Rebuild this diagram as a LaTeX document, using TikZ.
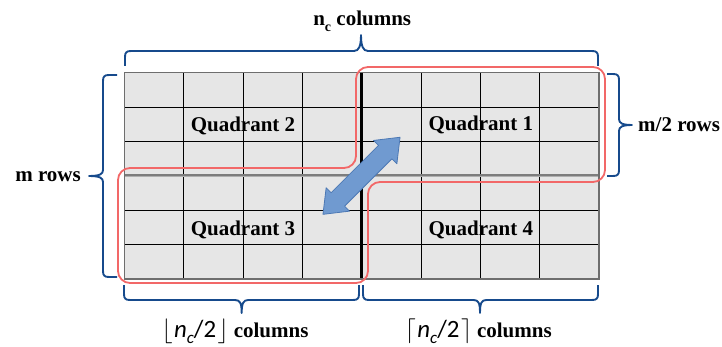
\documentclass[tikz,border=0pt]{standalone}
\usepackage{fontspec}
\setmainfont{Liberation Serif}
\newfontfamily\nsans{Carlito}
\definecolor{cellfill}{RGB}{230,230,230}
\definecolor{bordergray}{RGB}{110,110,110}
\definecolor{splitgray}{RGB}{125,125,125}
\definecolor{splitlight}{RGB}{175,175,175}
\definecolor{hlred}{RGB}{242,104,104}
\definecolor{braceblue}{RGB}{22,74,140}
\definecolor{arrowfill}{RGB}{112,154,208}
\definecolor{arrowline}{RGB}{76,120,180}

\begin{document}
\begin{tikzpicture}[x=1pt,y=-1pt,
  cellline/.style={black,line width=0.9pt},
  border/.style={bordergray,line width=1.3pt},
  hl/.style={hlred,line width=1.8pt,rounded corners=12pt},
  bracepath/.style={braceblue,line width=1.9pt,line join=round},
  bigarrow/.style={fill=arrowfill,draw=arrowline,line width=0.8pt,line join=round},
  lbl/.style={inner sep=0pt,font=\fontsize{21}{25}\selectfont\bfseries},
  quad/.style={lbl}]
\useasboundingbox (0,0) rectangle (722,347);

% the m x n_c matrix
\fill[cellfill] (124.5,72.7) rectangle (599,279);
\foreach \k in {1,...,7}
  \draw[cellline] ({124.5+\k*59.3125},72.7) -- ({124.5+\k*59.3125},279);
\foreach \k in {1,2,4,5}
  \draw[cellline] (124.5,{72.7+\k*34.383}) -- (599,{72.7+\k*34.383});
% split lines between the halves
\draw[line width=3pt,splitgray] (124.5,175.85) -- (599,175.85);
\draw[line width=0.9pt,splitlight] (124.5,176.3) -- (599,176.3);
\draw[line width=3pt,black] (361.75,72.7) -- (361.75,279);
\draw[border] (124.5,72.7) rectangle (599,279);

% outline around quadrants 1 and 3
\draw[hl] (356,67) -- (605,67) -- (605,182) -- (368,182) -- (368,283)
  -- (118,283) -- (118,168) -- (356,168) -- cycle;

% swap arrow
\begin{scope}[shift={(361.5,175.8)},rotate=45]
  \draw[bigarrow] (54.5,0) -- (33.5,16.5) -- (33.5,9.5) -- (-33.5,9.5)
    -- (-33.5,16.5) -- (-54.5,0) -- (-33.5,-16.5) -- (-33.5,-9.5)
    -- (33.5,-9.5) -- (33.5,-16.5) -- cycle;
\end{scope}

% quadrant labels
\node[quad,anchor=base] (q2) at (243,131.7) {Quadrant 2};
\node[quad,anchor=base] (q1) at (480.8,130.9) {Quadrant 1};
\node[quad,anchor=base] (q3) at (243,235.7) {Quadrant 3};
\node[quad,anchor=base] (q4) at (480.8,235.7) {Quadrant 4};

% braces
\draw[bracepath] (125,66) -- (125,57) .. controls (125,52.5) and (126.5,51) .. (131,51)
  -- (354,51) .. controls (359,51) and (361,46) .. (361,35)
  .. controls (361,46) and (363,51) .. (368,51)
  -- (592,51) .. controls (596.5,51) and (598,52.5) .. (598,57) -- (598,66);
\draw[bracepath] (117,75) -- (109,75) .. controls (104.5,75) and (103,76.5) .. (103,81)
  -- (103,170) .. controls (103,174) and (100,176) .. (89,176)
  .. controls (100,176) and (103,178) .. (103,182)
  -- (103,271) .. controls (103,275.5) and (104.5,277) .. (109,277) -- (117,277);
\draw[bracepath] (607,74) -- (613,74) .. controls (617.5,74) and (619,75.5) .. (619,80)
  -- (619,119) .. controls (619,123) and (622,125) .. (632,125)
  .. controls (622,125) and (619,127) .. (619,131)
  -- (619,170) .. controls (619,174.5) and (617.5,176) .. (613,176) -- (607,176);
\draw[bracepath] (124,285) -- (124,294) .. controls (124,298.5) and (125.5,300) .. (130,300)
  -- (235,300) .. controls (240,300) and (241.7,303) .. (241.7,313)
  .. controls (241.7,303) and (243.4,300) .. (248.4,300)
  -- (353,300) .. controls (357.5,300) and (359,298.5) .. (359,294) -- (359,285);
\draw[bracepath] (363,285) -- (363,294) .. controls (363,298.5) and (364.5,300) .. (369,300)
  -- (473.5,300) .. controls (478.5,300) and (480,303) .. (480,313)
  .. controls (480,303) and (481.5,300) .. (486.5,300)
  -- (592,300) .. controls (596.5,300) and (598,298.5) .. (598,294) -- (598,285);

% brace captions
\node[lbl,anchor=base] (ncap) at (362.2,26)
  {n\raisebox{-5.5pt}{\fontsize{14}{14}\selectfont c} columns};
\node[lbl,anchor=base east] (mcap) at (81,181.7) {m rows};
\node[lbl,anchor=base west] (halfcap) at (638,131.7) {m/2 rows};
\node[inner sep=0pt,anchor=base] (floorcap) at (235,337.7)
  {\fontsize{24.88}{30}\selectfont$\lfloor$\kern1.5pt{\nsans\itshape n}\raisebox{-5.5pt}{\nsans\itshape\fontsize{17}{17}\selectfont c}{\nsans /2}\kern1.5pt$\rfloor$\kern5pt{\fontsize{21}{25}\selectfont\bfseries columns}};
\node[inner sep=0pt,anchor=base] (ceilcap) at (478.3,337.7)
  {\fontsize{24.88}{30}\selectfont$\lceil$\kern1.5pt{\nsans\itshape n}\raisebox{-5.5pt}{\nsans\itshape\fontsize{17}{17}\selectfont c}{\nsans /2}\kern1.5pt$\rceil$\kern5pt{\fontsize{21}{25}\selectfont\bfseries columns}};
\end{tikzpicture}
\end{document}
